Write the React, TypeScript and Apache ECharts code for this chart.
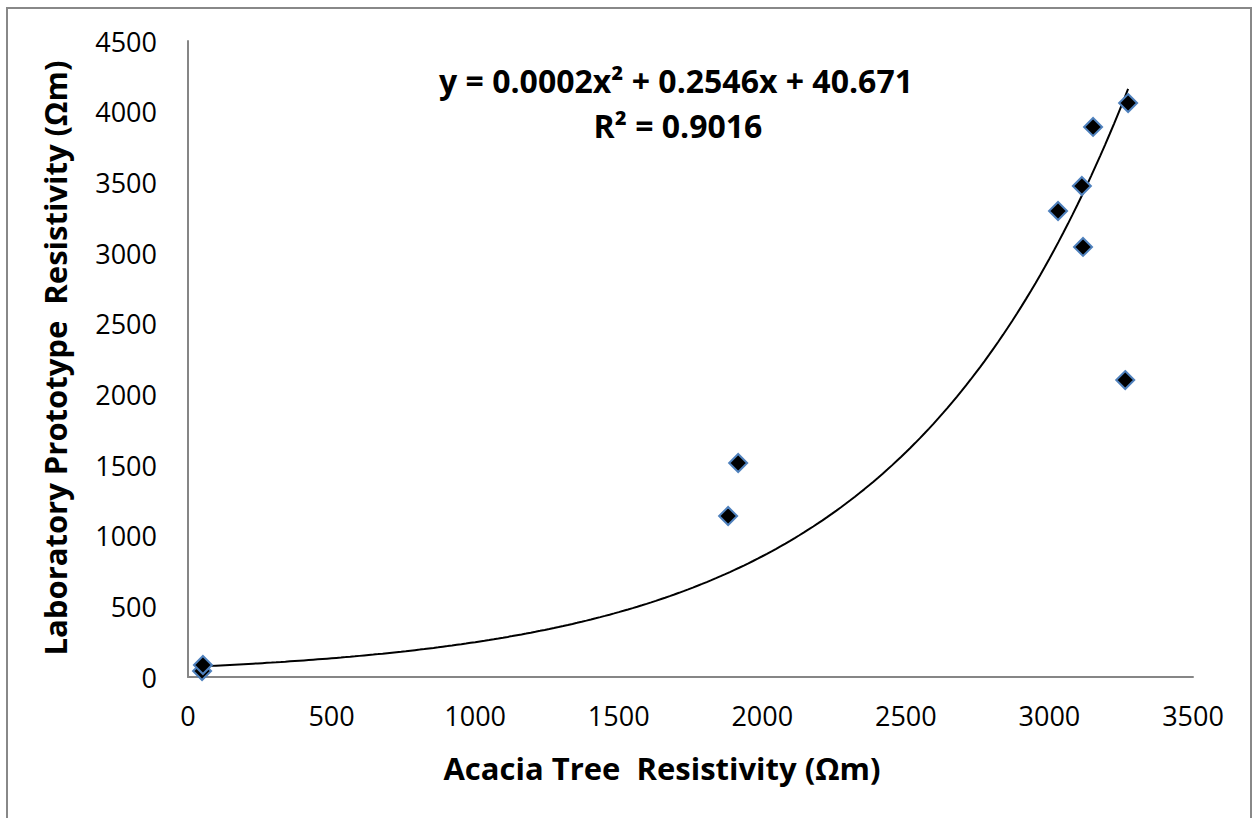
import { useEffect, useRef } from "react";
import * as echarts from "echarts";

// Measured resistivities (Ωm): acacia tree vs. laboratory prototype
const acaciaResistivity = [49, 52, 1881, 1916, 3030, 3113, 3117, 3152, 3264, 3274];
const prototypeResistivity = [42, 85, 1139, 1514, 3297, 3474, 3043, 3892, 2101, 4061];

// Axis ranges and tick steps
const xRange = [0, 3500];
const xStep = 500;
const yRange = [0, 4500];
const yStep = 500;

// Trendline annotation
const equationLines = ["y = 0.0002x² + 0.2546x + 40.671", "R² = 0.9016"];
const xTitle = "Acacia Tree  Resistivity (Ωm)";
const yTitle = "Laboratory Prototype  Resistivity (Ωm)";

const FONT = "'Open Sans', 'Noto Sans', sans-serif";

// Exponential least-squares trendline (fit of ln y against x), sampled over the data's x range
function exponentialTrend(xs: number[], ys: number[], samples: number): number[][] {
  const n = xs.length;
  const ly = ys.map((v) => Math.log(v));
  const mx = xs.reduce((a, b) => a + b, 0) / n;
  const my = ly.reduce((a, b) => a + b, 0) / n;
  let sxy = 0;
  let sxx = 0;
  for (let i = 0; i < n; i++) {
    sxy += (xs[i] - mx) * (ly[i] - my);
    sxx += (xs[i] - mx) * (xs[i] - mx);
  }
  const k = sxy / sxx;
  const lnA = my - k * mx;
  const lo = Math.min(...xs);
  const hi = Math.max(...xs);
  const pts: number[][] = [];
  for (let i = 0; i <= samples; i++) {
    const x = lo + ((hi - lo) * i) / samples;
    pts.push([x, Math.exp(lnA + k * x)]);
  }
  return pts;
}

export default function App() {
  const ref = useRef<HTMLDivElement>(null);

  useEffect(() => {
    if (!ref.current) return;
    const chart = echarts.init(ref.current, undefined, { renderer: "svg" });
    const points = acaciaResistivity.map((x, i) => [x, prototypeResistivity[i]]);
    const trend = exponentialTrend(acaciaResistivity, prototypeResistivity, 200);

    const axisLine = { show: true, lineStyle: { color: "#868686", width: 2 } };
    const plain = (v: number) => String(v);

    chart.setOption({
      animation: false,
      backgroundColor: "#ffffff",
      grid: { left: 188, right: 62, top: 41, bottom: 141, containLabel: false },
      xAxis: {
        type: "value",
        min: xRange[0],
        max: xRange[1],
        interval: xStep,
        axisLine,
        axisTick: { show: false },
        splitLine: { show: false },
        axisLabel: { color: "#000", fontSize: 27, fontFamily: FONT, margin: 25, formatter: plain },
      },
      yAxis: {
        type: "value",
        min: yRange[0],
        max: yRange[1],
        interval: yStep,
        axisLine,
        axisTick: { show: false },
        splitLine: { show: false },
        axisLabel: { color: "#000", fontSize: 27, fontFamily: FONT, margin: 31, formatter: plain },
      },
      graphic: [
        {
          type: "rect",
          shape: { x: 7, y: 8, width: 1244, height: 830 },
          style: { fill: "none", stroke: "#888888", lineWidth: 2 },
          silent: true,
        },
        {
          type: "text",
          x: 676,
          y: 80,
          style: {
            text: equationLines[0],
            fill: "#000",
            font: `bold 32px ${FONT}`,
            textAlign: "center",
            textVerticalAlign: "middle",
          },
        },
        {
          type: "text",
          x: 678,
          y: 125,
          style: {
            text: equationLines[1],
            fill: "#000",
            font: `bold 32px ${FONT}`,
            textAlign: "center",
            textVerticalAlign: "middle",
          },
        },
        {
          type: "text",
          x: 662,
          y: 768,
          style: {
            text: xTitle,
            fill: "#000",
            font: `bold 31px ${FONT}`,
            textAlign: "center",
            textVerticalAlign: "middle",
          },
        },
        {
          type: "text",
          x: 55,
          y: 358,
          rotation: Math.PI / 2,
          style: {
            text: yTitle,
            fill: "#000",
            font: `bold 31px ${FONT}`,
            textAlign: "center",
            textVerticalAlign: "middle",
          },
        },
      ],
      series: [
        {
          type: "line",
          data: trend,
          showSymbol: false,
          smooth: false,
          lineStyle: { color: "#000", width: 2 },
          silent: true,
          z: 2,
        },
        {
          type: "scatter",
          data: points,
          symbol: "diamond",
          symbolSize: 18,
          itemStyle: { color: "#000", borderColor: "#4F81BD", borderWidth: 2, opacity: 1 },
          z: 3,
        },
      ],
    });

    return () => chart.dispose();
  }, []);

  return (
    <div
      ref={ref}
      style={{ position: "absolute", left: 0, top: 0, width: 1255, height: 818, background: "#fff" }}
    />
  );
}
